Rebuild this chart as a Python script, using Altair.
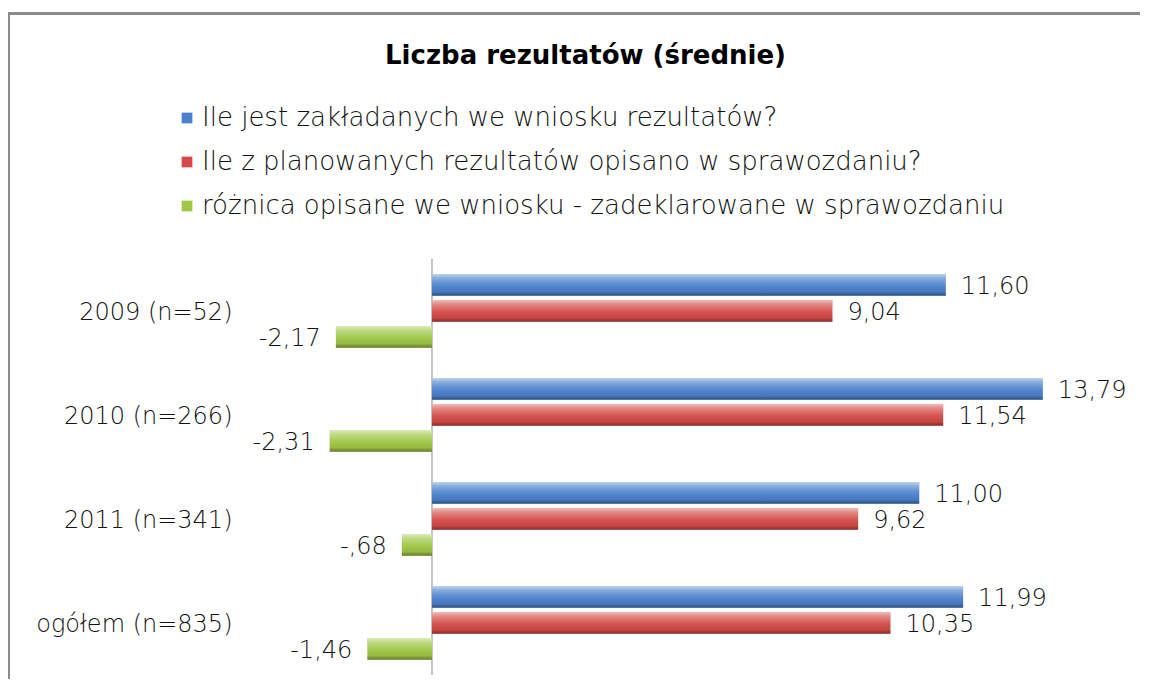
import altair as alt
import pandas as pd

categories = ["2009 (n=52)", "2010 (n=266)", "2011 (n=341)", "ogółem (n=835)"]
series = [
    "Ile jest zakładanych we wniosku rezultatów?",
    "Ile z planowanych rezultatów opisano w sprawozdaniu?",
    "różnica opisane we wniosku - zadeklarowane w sprawozdaniu",
]
planned = [11.60, 13.79, 11.00, 11.99]
described = [9.04, 11.54, 9.62, 10.35]
difference = [-2.17, -2.31, -0.68, -1.46]
label_planned = ["11,60", "13,79", "11,00", "11,99"]
label_described = ["9,04", "11,54", "9,62", "10,35"]
label_difference = ["-2,17", "-2,31", "-,68", "-1,46"]
colors = ["#4a80cc", "#d44a46", "#a0c645"]

rows = []
for vals, labs, s in zip([planned, described, difference],
                         [label_planned, label_described, label_difference], series):
    for c, v, l in zip(categories, vals, labs):
        rows.append({"cat": c, "s": s, "v": v, "lab": l})
df = pd.DataFrame(rows)

FONT = "DejaVu Sans"
TXT = "#111111"
W = 200

y_enc = alt.Y("cat:N", sort=categories,
              scale=alt.Scale(paddingInner=0, paddingOuter=0),
              axis=alt.Axis(title=None, domain=False, ticks=False, labelFontSize=24,
                            labelFont=FONT, labelFontWeight=W, labelColor=TXT,
                            labelPadding=8, labelLimit=400, labelBaseline="middle", labelOffset=2))
yoff = alt.YOffset("s:N", sort=series, scale=alt.Scale(paddingInner=0.17, paddingOuter=0.585))
x_enc = alt.X("v:Q", scale=alt.Scale(domain=[-4.334, 15.08], nice=False, zero=False), axis=None)

base = alt.Chart(df)

bars = base.mark_bar(cornerRadius=0).encode(
    x=x_enc, x2=alt.datum(0), y=y_enc, yOffset=yoff,
    color=alt.Color("s:N", sort=series,
                    scale=alt.Scale(domain=series, range=colors),
                    legend=alt.Legend(orient="none", legendX=-66, legendY=-154, title=None,
                                      symbolType="square", symbolSize=115, symbolStrokeWidth=0,
                                      labelFontSize=26, labelFont=FONT, labelFontWeight=W,
                                      labelColor=TXT, labelLimit=1000, rowPadding=18,
                                      labelOffset=2)),
)

shine = alt.LinearGradient(
    gradient="linear", x1=0, y1=0, x2=0, y2=1,
    stops=[
        alt.GradientStop(color="rgba(255,255,255,0.65)", offset=0),
        alt.GradientStop(color="rgba(255,255,255,0.35)", offset=0.18),
        alt.GradientStop(color="rgba(255,255,255,0.08)", offset=0.5),
        alt.GradientStop(color="rgba(0,0,0,0.05)", offset=0.8),
        alt.GradientStop(color="rgba(0,0,0,0.38)", offset=1),
    ],
)
gloss = base.mark_bar(fill=shine).encode(x=x_enc, x2=alt.datum(0), y=y_enc, yOffset=yoff)

pos_text = base.transform_filter("datum.v >= 0").mark_text(
    align="left", baseline="middle", dx=15, dy=2, fontSize=24, font=FONT, fontWeight=W, color=TXT
).encode(x=x_enc, y=y_enc, yOffset=yoff, text="lab:N")
neg_text = base.transform_filter("datum.v < 0").mark_text(
    align="right", baseline="middle", dx=-15, dy=2, fontSize=24, font=FONT, fontWeight=W, color=TXT
).encode(x=x_enc, y=y_enc, yOffset=yoff, text="lab:N")

zero = alt.Chart(pd.DataFrame({"v": [0]})).mark_rule(color="#8a8a8a", strokeWidth=1).encode(
    x=alt.X("v:Q", scale=alt.Scale(domain=[-4.334, 15.08], nice=False, zero=False), axis=None))

frame_df = pd.DataFrame({"a": [0]})
frame_left = alt.Chart(frame_df).mark_rule(color="#8c8c8c", strokeWidth=3).encode(
    x=alt.value(-231.5), y=alt.value(-247), y2=alt.value(700))
frame_top = alt.Chart(frame_df).mark_rule(color="#8c8c8c", strokeWidth=3).encode(
    x=alt.value(-233), x2=alt.value(1000), y=alt.value(-245.5))

chart = alt.layer(frame_left, frame_top, zero, bars, gloss, pos_text, neg_text).properties(
    width=860, height=416,
    autosize=alt.AutoSizeParams(type="none"),
    padding={"left": 232, "top": 251, "right": 40, "bottom": 4},
    title=alt.Title("Liczba rezultatów (średnie)", anchor="start", frame="group", dx=145, dy=79,
                    offset=0, fontSize=26, font=FONT, fontWeight="bold", color="#000000",
                    baseline="alphabetic"),
).configure(background="white").configure_view(stroke="transparent", strokeWidth=0)

chart.save("out.html", embed_options={"renderer": "svg", "actions": False})
